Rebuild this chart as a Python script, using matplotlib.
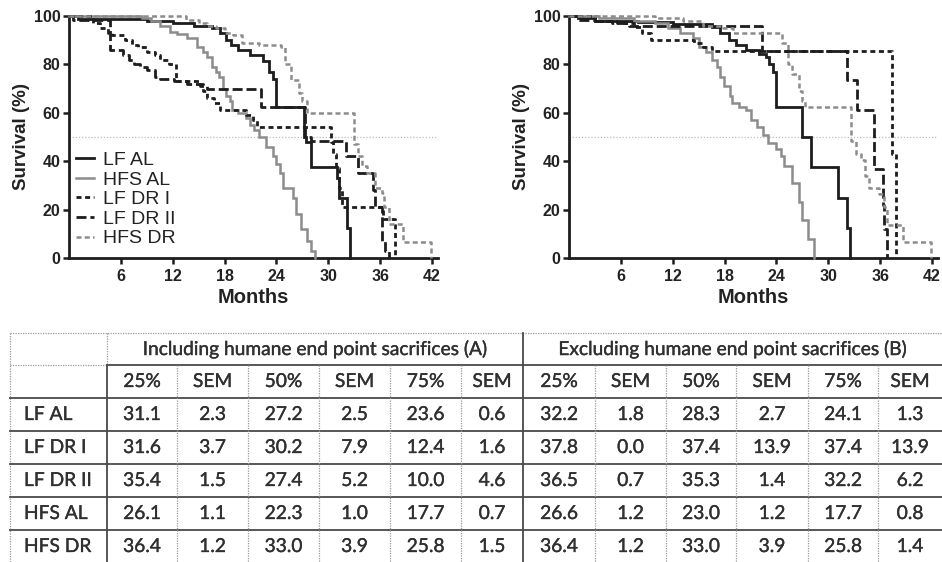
import matplotlib
matplotlib.use("Agg")
import matplotlib.pyplot as plt
import matplotlib.patheffects as pe

plt.rcParams['font.family'] = ['Liberation Sans', 'DejaVu Sans']

# ---------------- data: survival curves (months, % surviving) ----------------
series_names = ["LF AL", "HFS AL", "LF DR I", "LF DR II", "HFS DR"]

# Panel A: including humane end point sacrifices
A_lfal_t = [0, 1.0, 9.0, 12.0, 14.5, 16.5, 17.5, 18.2, 18.8, 19.5, 21.0, 22.4, 23.2, 23.6, 24.0, 27.2, 27.4, 28.0, 31.0, 31.2, 32.2, 32.5]
A_lfal_s = [100, 98.6, 97.8, 97, 96, 95, 93, 90, 88, 86, 84, 81.5, 77, 74, 62.5, 50, 48, 37.5, 33, 25, 12.5, 0]
A_hfsal_t = [0, 8.5, 9.5, 10.5, 11.7, 12.5, 13.6, 14.8, 15.5, 16.0, 16.6, 17.0, 17.4, 17.8, 18.2, 18.6, 18.9, 19.5, 20.5, 21.0, 21.4, 22.0, 22.8, 23.6, 24.0, 24.4, 24.8, 25.9, 26.3, 26.8, 27.5, 28.0, 28.5]
A_hfsal_s = [100, 99, 98, 96, 93.5, 92.5, 91, 87, 85, 83, 79, 77, 75, 70, 67, 65, 61, 60, 58, 55, 53, 50, 46, 42, 39, 35, 29, 25, 18, 12, 7, 3, 0]
A_lfdr1_t = [0, 2.8, 3.6, 4.5, 5.0, 6.5, 7.3, 8.0, 9.0, 10.0, 10.5, 11.6, 12.4, 15.0, 15.5, 16.0, 16.8, 17.5, 20.5, 21.3, 21.8, 30.0, 30.3, 30.6, 30.9, 31.2, 31.6, 36.3, 37.7]
A_lfdr1_s = [100, 97, 95, 93, 92, 90, 88, 87, 85, 84, 82, 80, 73, 72, 69, 66, 64, 61, 59, 57, 54, 54, 48, 43, 37, 29, 21, 16, 0]
A_lfdr2_t = [0, 0.5, 4.7, 6.3, 7.0, 7.5, 8.2, 9.0, 10.0, 10.5, 12.1, 13.6, 15.2, 16.0, 22.2, 27.3, 28.0, 32.0, 33.4, 35.2, 35.4, 36.2, 36.6, 37.0]
A_lfdr2_s = [100, 98.5, 86, 84, 82, 80, 79, 77.5, 75, 74, 73, 72, 71, 70, 62.5, 50, 48.5, 42, 35, 28, 21, 7, 3, 0]
A_hfsdr_t = [0, 13.5, 15.0, 16.0, 17.0, 18.0, 19.0, 20.0, 22.0, 24.5, 25.0, 25.7, 26.6, 27.0, 27.5, 33.0, 33.4, 33.9, 34.5, 35.4, 36.2, 36.5, 37.0, 38.6, 41.9]
A_hfsdr_s = [100, 98.5, 97, 96, 95, 93, 92, 89, 88, 87, 80, 73.5, 68, 65, 60, 47, 42, 38, 35, 29, 27, 21, 14, 6.7, 0]

# Panel B: excluding humane end point sacrifices
B_lfal_t = [0, 1.0, 3.0, 8.0, 12.0, 16.5, 17.5, 18.5, 19.3, 20.5, 22.0, 22.8, 23.2, 23.6, 24.0, 27.0, 28.0, 31.1, 32.2, 32.5]
B_lfal_s = [100, 99, 98, 97.5, 96.5, 95.5, 93, 90, 88, 86, 84.5, 83, 80, 77, 62.5, 50, 37.5, 25, 12.5, 0]
B_hfsal_t = [0, 3.5, 7.5, 10.0, 11.5, 12.8, 14.3, 15.1, 15.9, 16.6, 17.1, 17.5, 17.9, 18.6, 18.9, 19.7, 20.5, 21.1, 21.7, 22.4, 23.0, 24.0, 24.5, 24.9, 25.8, 26.6, 27.0, 27.6, 28.3]
B_hfsal_s = [100, 99, 98, 97, 95, 93, 91, 87, 85, 82, 79, 75, 71, 67, 64, 62.5, 61, 57, 54, 51, 47.5, 45, 42, 38, 31, 23, 15.5, 7.7, 0]
B_lfdr1_t = [0, 3.0, 5.5, 7.5, 8.5, 9.5, 14.5, 15.5, 16.5, 37.4, 37.8]
B_lfdr1_s = [100, 98, 97, 95.5, 93, 90, 89, 87, 85.5, 42.8, 0]
B_lfdr2_t = [0, 1.0, 3.0, 5.0, 7.0, 22.3, 32.2, 33.3, 35.3, 36.3, 36.5, 36.8]
B_lfdr2_s = [100, 98.5, 98, 97, 96, 85.5, 73.5, 61, 36.7, 22, 12, 0]
B_hfsdr_t = [0, 10.0, 13.2, 15.5, 17.8, 19.0, 24.7, 25.4, 25.8, 26.6, 27.0, 27.3, 32.6, 33.2, 33.8, 34.3, 34.7, 35.9, 36.4, 36.8, 38.7, 41.9]
B_hfsdr_s = [100, 99, 98, 96, 95, 93, 89, 80, 76, 69, 65, 62.5, 48.5, 43, 40.5, 34, 29, 26.5, 21, 13.5, 6.7, 0]

x_ticks = [6, 12, 18, 24, 30, 36, 42]
y_ticks = [0, 20, 40, 60, 80, 100]

# ---------------- data: table ----------------
group_headers = ["Including humane end point sacrifices (A)", "Excluding humane end point sacrifices (B)"]
sub_headers = ["25%", "SEM", "50%", "SEM", "75%", "SEM"]
row_labels = ["LF AL", "LF DR I", "LF DR II", "HFS AL", "HFS DR"]
incl_q25 = [31.1, 31.6, 35.4, 26.1, 36.4]
incl_q25_sem = [2.3, 3.7, 1.5, 1.1, 1.2]
incl_q50 = [27.2, 30.2, 27.4, 22.3, 33.0]
incl_q50_sem = [2.5, 7.9, 5.2, 1.0, 3.9]
incl_q75 = [23.6, 12.4, 10.0, 17.7, 25.8]
incl_q75_sem = [0.6, 1.6, 4.6, 0.7, 1.5]
excl_q25 = [32.2, 37.8, 36.5, 26.6, 36.4]
excl_q25_sem = [1.8, 0.0, 0.7, 1.2, 1.2]
excl_q50 = [28.3, 37.4, 35.3, 23.0, 33.0]
excl_q50_sem = [2.7, 13.9, 1.4, 1.2, 3.9]
excl_q75 = [24.1, 37.4, 32.2, 17.7, 25.8]
excl_q75_sem = [1.3, 13.9, 6.2, 0.8, 1.4]

# ---------------- styles ----------------
BLACK = '#1d1d1d'
GRAY = '#8c8c8c'
styles = {
    "LF AL":    dict(color=BLACK, lw=2.0, ls='-'),
    "HFS AL":   dict(color=GRAY, lw=1.8, ls='-'),
    "LF DR I":  dict(color=BLACK, lw=2.0, ls=(0, (1.8, 1.3))),
    "LF DR II": dict(color=BLACK, lw=2.0, ls=(0, (3.6, 1.4))),
    "HFS DR":   dict(color=GRAY, lw=1.8, ls=(0, (2.0, 1.3))),
}

W, H = 942, 562
fig = plt.figure(figsize=(W / 100, H / 100), dpi=100)
fig.patch.set_facecolor('white')


def px_axes(x0, y0, x1, y1):
    return fig.add_axes([x0 / W, 1 - y1 / H, (x1 - x0) / W, (y1 - y0) / H])


def survival_panel(ax, curves, legend):
    for name, (t, s) in zip(series_names, curves):
        st = styles[name]
        ax.step(t, s, where='post', color=st['color'], lw=st['lw'], ls=st['ls'],
                label=name, clip_on=False, solid_joinstyle='miter', zorder=3)
    ax.axhline(50, color='#bdbdbd', lw=0.9, ls=(0, (1, 1.5)), zorder=1)
    ax.set_xlim(0, 42.7)
    ax.set_ylim(0, 100)
    ax.set_xticks(x_ticks)
    ax.set_yticks(y_ticks)
    for sp in ['top', 'right']:
        ax.spines[sp].set_visible(False)
    for sp in ['left', 'bottom']:
        ax.spines[sp].set_linewidth(2.0)
        ax.spines[sp].set_color(BLACK)
    ax.tick_params(axis='both', direction='out', length=4, width=1.8, color=BLACK,
                   labelsize=11.5, labelcolor='#222222')
    ax.tick_params(axis='x', pad=4)
    ax.tick_params(axis='y', pad=2)
    for lab in ax.get_xticklabels() + ax.get_yticklabels():
        lab.set_fontweight('bold')
    ax.set_xlabel("Months", fontsize=14.5, fontweight='bold', color='#222222', labelpad=3)
    ax.set_ylabel("Survival (%)", fontsize=13.5, fontweight='bold', color='#222222', labelpad=3)
    if legend:
        ax.legend(loc='upper left', bbox_to_anchor=(0.02, 0.44), frameon=False,
                  fontsize=14, handlelength=0.9, handletextpad=0.45, labelspacing=0.1,
                  borderpad=0, borderaxespad=0, labelcolor='#222222')


axA = px_axes(69, 16, 438, 258)
survival_panel(axA, [(A_lfal_t, A_lfal_s), (A_hfsal_t, A_hfsal_s), (A_lfdr1_t, A_lfdr1_s),
                     (A_lfdr2_t, A_lfdr2_s), (A_hfsdr_t, A_hfsdr_s)], legend=True)
axB = px_axes(569, 16, 938, 258)
survival_panel(axB, [(B_lfal_t, B_lfal_s), (B_hfsal_t, B_hfsal_s), (B_lfdr1_t, B_lfdr1_s),
                     (B_lfdr2_t, B_lfdr2_s), (B_hfsdr_t, B_hfsdr_s)], legend=False)

# ---------------- table ----------------
tab = px_axes(0, 333, W, H)
tab.set_xlim(0, W)
tab.set_ylim(H, 333)
tab.axis('off')

col_edges = [10, 107, 177, 248, 319, 390, 461, 523, 595, 666, 736, 808, 878, 950]
row_edges = [333, 365, 398, 431, 464, 497, 530, 563]
SOLID = dict(color='#4a4a4a', lw=1.3, clip_on=False)
DOT = dict(color='#9a9a9a', lw=0.9, ls=(0, (1, 1)), clip_on=False)
TXT = dict(color='#303030', fontsize=13.8, family=['Lato', 'DejaVu Sans'], va='center',
           path_effects=[pe.withStroke(linewidth=0.25, foreground='#303030')])

# borders / grid
tab.plot([col_edges[0], W], [row_edges[0]] * 2, **DOT)
tab.plot([col_edges[0]] * 2, [row_edges[0], H], **DOT)
tab.plot([col_edges[0], col_edges[1]], [row_edges[1]] * 2, **DOT)
tab.plot([col_edges[1], W], [row_edges[1]] * 2, **SOLID)
for y in row_edges[2:-1]:
    tab.plot([col_edges[0], W], [y, y], **SOLID)
tab.plot([col_edges[1]] * 2, [row_edges[0], row_edges[1]], **DOT)
tab.plot([col_edges[1]] * 2, [row_edges[1], H], **SOLID)
tab.plot([col_edges[7]] * 2, [row_edges[0], H], **SOLID)
for i, x in enumerate(col_edges[2:-1], start=2):
    if i != 7:
        tab.plot([x, x], [row_edges[1], H], **DOT)

# header texts
for g, hdr in enumerate(group_headers):
    xa, xb = col_edges[1 + 6 * g], col_edges[7 + 6 * g] if g == 0 else 942
    tab.text((xa + xb) / 2, (row_edges[0] + row_edges[1]) / 2, hdr, ha='center', **TXT)
for j in range(12):
    xc = (col_edges[1 + j] + min(col_edges[2 + j], 942)) / 2
    tab.text(xc, (row_edges[1] + row_edges[2]) / 2, sub_headers[j % 6], ha='center', **TXT)

columns = [incl_q25, incl_q25_sem, incl_q50, incl_q50_sem, incl_q75, incl_q75_sem,
           excl_q25, excl_q25_sem, excl_q50, excl_q50_sem, excl_q75, excl_q75_sem]
for r, lab in enumerate(row_labels):
    yc = (row_edges[2 + r] + row_edges[3 + r]) / 2
    tab.text(24, yc, lab, ha='left', **TXT)
    for j, col in enumerate(columns):
        xc = (col_edges[1 + j] + min(col_edges[2 + j], 942)) / 2
        tab.text(xc, yc, f"{col[r]:.1f}", ha='center', **TXT)

fig.savefig("out.png", dpi=100, facecolor='white')
